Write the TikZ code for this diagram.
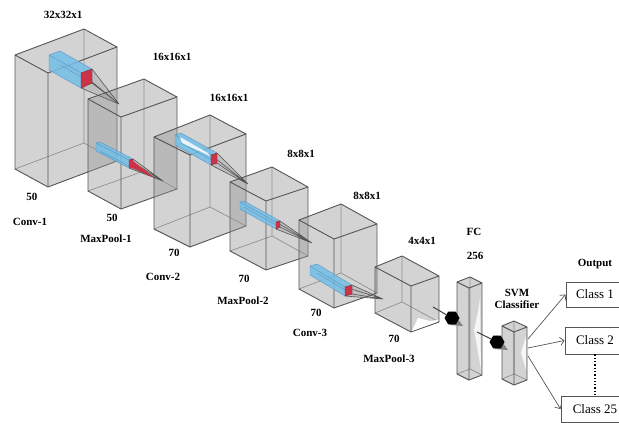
\documentclass[tikz,border=0pt]{standalone}
\usepackage{fontspec}
\setmainfont{Liberation Serif}
\usepackage{xcolor}
\usepackage{tikz}
\usetikzlibrary{positioning,arrows.meta,calc,shapes.geometric}
\definecolor{cedge}{RGB}{85,85,85}
\definecolor{cface}{RGB}{150,150,150}
\definecolor{cblue}{RGB}{115,190,230}
\definecolor{cbluedk}{RGB}{90,150,190}
\definecolor{cred}{RGB}{205,50,70}
% corners: left, front, back, right, then height
\newcommand{\cubebox}[5]{
  \coordinate (l) at (#1); \coordinate (f) at (#2);
  \coordinate (b) at (#3); \coordinate (r) at (#4);
  \fill[boxface] (l) -- (b) -- (r) -- ($(r)+(0,#5)$) -- ($(f)+(0,#5)$) -- ($(l)+(0,#5)$) -- cycle;
  \draw[boxhid] (b) -- ($(b)+(0,#5)$) ($(l)+(0,#5)$) -- ($(b)+(0,#5)$) -- ($(r)+(0,#5)$);
  \draw[boxline] (l) -- (b) -- (r) -- ($(r)+(0,#5)$) -- ($(f)+(0,#5)$) -- ($(l)+(0,#5)$) -- cycle;
  \draw[boxline] (l) -- (f) -- (r) (f) -- ($(f)+(0,#5)$);
}
% red face a b c d, offset to the far end, tip of the fan
\newcommand{\kernelbar}[6]{
  \coordinate (a) at (#1); \coordinate (e) at (#2);
  \coordinate (c) at (#3); \coordinate (d) at (#4);
  \coordinate (t) at (#6);
  \fill[fanface] (a) -- (t) -- (d) -- cycle (e) -- (t) -- (c) -- cycle;
  \draw[fanline] (a) -- (t) (e) -- (t) (c) -- (t) (d) -- (t);
  \filldraw[barface] ($(a)+(#5)$) -- ($(e)+(#5)$) -- (e) -- (c) -- (d) -- ($(d)+(#5)$) -- cycle;
  \draw[barline] ($(a)+(#5)$) -- (a) ($(c)+(#5)$) -- (c);
  \filldraw[redface] (a) -- (e) -- (c) -- (d) -- cycle;
}
\begin{document}
\begin{tikzpicture}[x=1pt,y=-1pt,
  boxface/.style={fill=cface, fill opacity=0.42},
  boxline/.style={draw=cedge, line width=0.9pt},
  boxhid/.style={draw=cedge!65, line width=0.7pt},
  fanface/.style={fill=gray, fill opacity=0.25},
  fanline/.style={draw=cedge, line width=0.6pt},
  barface/.style={fill=cblue, fill opacity=0.85, draw=cbluedk, line width=0.4pt},
  barline/.style={draw=cbluedk, line width=0.4pt},
  redface/.style={fill=cred, draw=cred!70!black, line width=0.4pt},
  lab/.style={font=\fontsize{11}{12.5}\selectfont\bfseries, inner sep=0pt, align=center},
  classbox/.style={draw=cedge, fill=white, line width=0.9pt, inner sep=0pt,
                   font=\fontsize{13}{15}\selectfont},
  blob/.style={regular polygon, regular polygon sides=6, fill=black, inner sep=0pt, minimum size=15pt},
  link/.style={draw=black!75, line width=1pt},
  ar/.style={-{Straight Barb[length=4pt]}, draw=cedge, line width=0.7pt}]
\useasboundingbox (0,0) rectangle (619,423);

\cubebox{15,55}{48,73}{84,29}{117,47}{114}
\cubebox{88,99}{121,117}{144,79}{177,97}{92}
\cubebox{154,137}{190,155}{210,115}{246,134}{92}
\cubebox{230,182}{266,201}{272,167}{308,187}{69}
\cubebox{299,220}{334,239}{341,204}{377,224}{69}
\cubebox{375,267}{411,286}{402,256}{439,276}{46}
\fill[white] (412,331) -- (418,318) -- (430,321) -- (438,320) -- (438,321.5) -- cycle;
\cubebox{457,282}{469,288}{470,277}{482,283}{92}
\fill[white, opacity=0.8] (480,298) -- (481,370) -- (478,352) -- (474,330) -- (478,312) -- cycle;
\cubebox{502,326}{514,332}{514,321}{527,327}{53}
\fill[white, opacity=0.8] (526,336) -- (526,370) -- (521,353) -- cycle;

\kernelbar{81,73}{92,69}{92,83}{81,88}{-32,-18}{119,104}
\kernelbar{129,160}{133,159}{133,168}{129,168}{-33,-17}{163,181}
\fill[cred] (129,160) -- (133,161) -- (155,178) -- (133,168) -- (129,168) -- cycle;
\kernelbar{211,155}{217,153}{217,163}{211,165}{-36,-20}{248,184}
\fill[white!85!cblue] (180,137) -- (208,153) -- (210,156) -- (182,143) -- cycle;
\kernelbar{276,222}{280,221}{280,227}{276,229}{-36,-20}{312,243}
\kernelbar{345,287}{352,285}{352,294}{345,296}{-35,-21}{383,299}

\node[lab] (size1) at (63,15) {32x32x1};
\node[lab] (size2) at (172,57) {16x16x1};
\node[lab] (size3) at (229,98) {16x16x1};
\node[lab] (size4) at (301,154) {8x8x1};
\node[lab] (size5) at (367,196) {8x8x1};
\node[lab] (size6) at (422,241) {4x4x1};
\node[lab] (fcname) at (474,232) {FC};
\node[lab] (fcsize) at (475,256) {256};
\node[lab] (svm) at (517,299) {SVM\\Classifier};
\node[lab] (output) at (595,264) {Output};

\node[lab] (depth1) at (32,197) {50};
\node[lab] (name1) at (30,222) {Conv-1};
\node[lab] (depth2) at (112,218) {50};
\node[lab] (name2) at (106,239) {MaxPool-1};
\node[lab] (depth3) at (174,253) {70};
\node[lab] (name3) at (163,277) {Conv-2};
\node[lab] (depth4) at (244,279) {70};
\node[lab] (name4) at (243,301) {MaxPool-2};
\node[lab] (depth5) at (316,313) {70};
\node[lab] (name5) at (310,333) {Conv-3};
\node[lab] (depth6) at (394,339) {70};
\node[lab] (name6) at (389,359) {MaxPool-3};

\node[classbox, minimum width=58pt, minimum height=25pt] (class1) at (595,294.5) {Class 1};
\node[classbox, minimum width=60pt, minimum height=27pt] (class2) at (595,340.5) {Class 2};
\node[classbox, minimum width=68pt, minimum height=26pt] (class25) at (595,409) {Class 25};
\draw[draw=black, line width=1.3pt, dotted] (class2) -- (class25);

\coordinate (from1) at (433,307);
\coordinate (from2) at (477,332);
\coordinate (tip1) at (463,326);
\coordinate (tip2) at (508,350);
\fill[gray] (452,311) -- (tip1) -- (450,325) -- cycle;
\fill[gray] (497,335) -- (tip2) -- (495,349) -- cycle;
\node[blob] (blob1) at (452,318) {};
\node[blob] (blob2) at (497,342) {};
\draw[link] (from1) -- (blob1);
\draw[link] (from2) -- (blob2);

\coordinate (out1) at (528,339);
\coordinate (out2) at (528,348);
\coordinate (out3) at (528,356);
\draw[ar] (out1) -- (class1.west);
\draw[ar] (out2) -- (class2.west);
\draw[ar] (out3) -- (class25.west);
\end{tikzpicture}
\end{document}
